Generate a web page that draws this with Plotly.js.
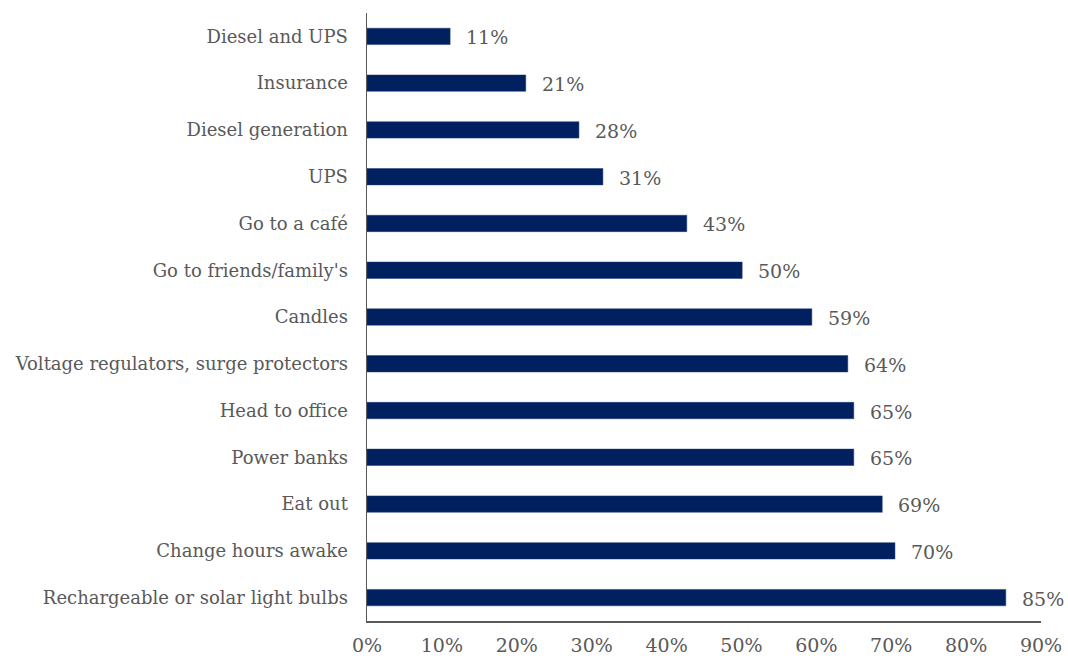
<!DOCTYPE html>
<html>
<head>
<meta charset="utf-8">
<script src="https://cdn.plot.ly/plotly-3.0.1.min.js"></script>
<style>html,body{margin:0;padding:0;background:#fff;}#chart{width:1068px;height:658px;}</style>
</head>
<body>
<div id="chart"></div>
<script>
const categories = [
  "Diesel and UPS",
  "Insurance",
  "Diesel generation",
  "UPS",
  "Go to a café",
  "Go to friends/family's",
  "Candles",
  "Voltage regulators, surge protectors",
  "Head to office",
  "Power banks",
  "Eat out",
  "Change hours awake",
  "Rechargeable or solar light bulbs"
];
const values = [11.1, 21.2, 28.3, 31.5, 42.7, 50.1, 59.4, 64.2, 65.0, 65.0, 68.8, 70.5, 85.3];
const labels = ["11%", "21%", "28%", "31%", "43%", "50%", "59%", "64%", "65%", "65%", "69%", "70%", "85%"];
const tickVals = [0, 10, 20, 30, 40, 50, 60, 70, 80, 90];
const tickText = ["0%", "10%", "20%", "30%", "40%", "50%", "60%", "70%", "80%", "90%"];

const fontFam = "DejaVu Serif, serif";
const grey = "#595959";

const trace = {
  type: "bar",
  orientation: "h",
  x: values,
  y: categories,
  width: 0.35,
  marker: {color: "#002060", line: {color: "#1f3a78", width: 0.5}},
  hoverinfo: "none"
};

const annotations = values.map((v, i) => ({
  x: v, y: categories[i], xref: "x", yref: "y",
  text: labels[i], showarrow: false, xanchor: "left", yanchor: "middle",
  xshift: 14, yshift: -1, font: {family: fontFam, size: 19, color: grey}
}));

const layout = {
  width: 1068, height: 658,
  margin: {l: 367, r: 27, t: 13, b: 37},
  paper_bgcolor: "#fff", plot_bgcolor: "#fff",
  showlegend: false,
  font: {family: fontFam, size: 18, color: grey},
  xaxis: {
    range: [0, 90], tickvals: tickVals, ticktext: tickText,
    showgrid: false, zeroline: false, showline: true, linecolor: grey, linewidth: 1.5,
    ticks: "", ticklabelstandoff: 7,
    tickfont: {family: fontFam, size: 19, color: grey}, fixedrange: true
  },
  yaxis: {
    type: "category", autorange: "reversed",
    showgrid: false, zeroline: false, showline: true, linecolor: grey, linewidth: 1.5,
    ticks: "", ticklabelstandoff: 14,
    tickfont: {family: fontFam, size: 18, color: grey}, fixedrange: true
  },
  annotations: annotations
};

Plotly.newPlot("chart", [trace], layout, {displayModeBar: false, staticPlot: true});
</script>
</body>
</html>
